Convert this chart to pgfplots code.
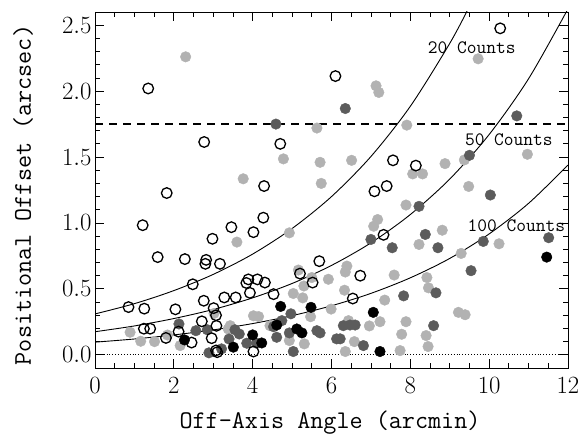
\documentclass[border=0pt]{standalone}
\usepackage{pgfplots}
\pgfplotsset{compat=1.18}
\definecolor{lg}{gray}{0.70}
\definecolor{dg}{gray}{0.36}
\begin{document}
\begin{tikzpicture}
\useasboundingbox (-95bp,-71bp) rectangle (483bp,368bp);
\begin{axis}[
 at={(0,0)}, anchor=south west,
 scale only axis, width=473bp, height=356bp,
 xmin=0, xmax=12, ymin=-0.1, ymax=2.6,
 xtick={0,2,4,6,8,10,12}, minor x tick num=3,
 ytick={0,0.5,1,1.5,2,2.5}, minor y tick num=4,
 yticklabel style={/pgf/number format/.cd,fixed,fixed zerofill,precision=1},
 xticklabel style={yshift=-6bp},
 tick align=inside, major tick length=9bp, minor tick length=5bp,
 tick style={line width=0.8bp, black},
 ticklabel style={font=\fontsize{24}{24}\selectfont},
 axis line style={line width=0.9bp},
 clip=true,
]
% model curves
\addplot[smooth, line width=0.9bp, no markers] coordinates {(0,0.310)(1,0.388)(2,0.487)(3,0.610)(4,0.764)(5,0.958)(6,1.200)(7,1.504)(8,1.885)(9,2.362)(9.5,2.643)};
\addplot[smooth, line width=0.9bp, no markers] coordinates {(0,0.175)(1,0.219)(2,0.275)(3,0.344)(4,0.432)(5,0.541)(6,0.678)(7,0.849)(8,1.064)(9,1.333)(10,1.671)(11,2.094)(12,2.624)};
\addplot[smooth, line width=0.9bp, no markers] coordinates {(0,0.096)(1,0.120)(2,0.151)(3,0.189)(4,0.237)(5,0.297)(6,0.372)(7,0.466)(8,0.584)(9,0.731)(10,0.917)(11,1.149)(12,1.439)};
\addplot[line width=1.2bp, dash pattern=on 8bp off 6bp, no markers] coordinates {(0,1.75)(12,1.75)};
\addplot[line width=0.9bp, dotted, no markers] coordinates {(0,0)(12,0)};
% light gray
\addplot[only marks, mark=*, mark size=5.3bp, mark options={draw=lg, fill=lg}] coordinates {
(0.89,0.171)(1.16,0.103)(1.51,0.10)(1.84,0.15)(2.16,0.07)(2.30,2.26)(3.02,0.314)(3.43,0.221)(3.38,0.196)(3.60,0.855)(3.76,1.335)
(4.02,0.296)(4.15,0.29)(4.44,0.221)(4.78,1.486)(4.93,0.925)(4.93,0.108)(5.03,0.465)(5.16,0.643)(5.27,0.432)(5.30,0.522)(5.50,0.586)(5.31,0.083)
(5.47,0.289)(5.63,1.72)(5.71,1.46)(5.74,1.30)(5.92,0.573)(5.99,0.347)(6.33,0.49)(6.35,0.628)(6.39,0.673)(6.35,0.025)(6.43,0.259)(6.51,1.475)(6.58,0.10)
(6.96,0.219)(7.07,0.975)(7.17,1.026)(7.13,2.04)(7.20,1.99)(7.23,0.251)(7.35,0.415)(7.59,0.605)(7.74,0.032)(7.78,0.156)(7.89,0.251)(7.89,1.136)(7.91,1.742)
(8.06,1.372)(8.31,1.372)(8.22,0.837)(8.40,0.146)(8.42,0.586)(8.45,0.063)(8.46,0.508)(8.81,0.945)(8.88,1.45)(9.22,0.322)(9.29,0.769)(9.37,1.478)(9.39,0.304)
(9.48,1.277)(9.72,2.245)(10.25,0.842)(10.97,1.521)};
% dark gray
\addplot[only marks, mark=*, mark size=5.3bp, mark options={draw=dg, fill=dg}] coordinates {
(2.13,0.234)(2.56,0.183)(2.85,0.19)(2.89,0.015)(3.21,0.045)(3.40,0.12)(3.55,0.19)(3.66,0.158)(3.85,0.088)(4.10,0.088)
(4.53,0.213)(4.59,1.75)(4.61,0.133)(4.74,0.259)(4.93,0.166)(4.97,0.311)(5.03,0.025)(5.63,0.183)(5.71,0.166)(6.13,0.121)(6.22,0.121)
(6.30,0.221)(6.35,1.868)(6.47,0.226)(6.60,0.226)(6.81,0.07)(7.0,0.875)(7.54,0.812)(7.83,0.447)(8.22,1.126)(8.38,0.913)(8.59,0.221)
(8.65,0.47)(8.70,0.812)(9.50,1.513)(9.54,0.638)(9.85,0.86)(10.03,1.212)(10.70,1.812)(11.51,0.888)};
% black
\addplot[only marks, mark=*, mark size=5.3bp, mark options={draw=black, fill=black}] coordinates {
(2.27,0.113)(3.51,0.058)(4.0,0.151)(4.23,0.09)(4.61,0.226)(4.71,0.367)(5.12,0.196)(5.25,0.166)(5.48,0.36)(7.06,0.322)(7.23,0.025)(11.46,0.741)};
% open circles
\addplot[only marks, mark=o, mark size=5.3bp, mark options={draw=black, line width=1.3bp, fill=none}] coordinates {
(0.85,0.362)(1.25,0.35)(1.24,0.198)(1.40,0.198)(1.21,0.983)(1.35,2.02)(1.59,0.741)(1.82,1.227)(1.80,0.128)(2.04,0.345)(2.12,0.176)
(2.28,0.726)(2.45,0.093)(2.48,0.535)(2.71,0.254)(2.76,0.41)(2.77,1.614)(2.82,0.72)(2.80,0.69)(2.96,0.126)(2.98,0.88)(3.01,0.354)
(3.07,0.30)(3.08,0.22)(3.07,0.033)(3.10,0.02)(3.17,0.69)(3.28,0.435)(3.46,0.968)(3.57,0.435)(3.84,0.545)(3.89,0.572)(3.93,0.47)
(4.12,0.572)(4.31,0.548)(4.02,0.93)(4.27,1.04)(4.29,1.28)(4.02,0.025)(4.53,0.46)(4.70,1.60)(5.20,0.616)(5.52,0.548)(5.69,0.71)
(6.10,2.114)(6.54,0.427)(6.73,0.60)(7.09,1.24)(7.32,0.91)(7.40,1.28)(7.56,1.475)(8.14,1.435)(10.28,2.476)};
\node[font=\ttfamily\fontsize{19}{19}\selectfont] at (axis cs:9.56,2.33) {20 Counts};
\node[font=\ttfamily\fontsize{19}{19}\selectfont] at (axis cs:10.5,1.634) {50 Counts};
\node[font=\ttfamily\fontsize{19}{19}\selectfont] at (axis cs:10.69,0.98) {100 Counts};
\end{axis}
\node[font=\ttfamily\fontsize{25.5}{25.5}\selectfont] at (235bp,-55bp) {Off-Axis Angle (arcmin)};
\node[font=\ttfamily\fontsize{25.5}{25.5}\selectfont, rotate=90] at (-72bp,173bp) {Positional Offset (arcsec)};
\end{tikzpicture}
\end{document}
